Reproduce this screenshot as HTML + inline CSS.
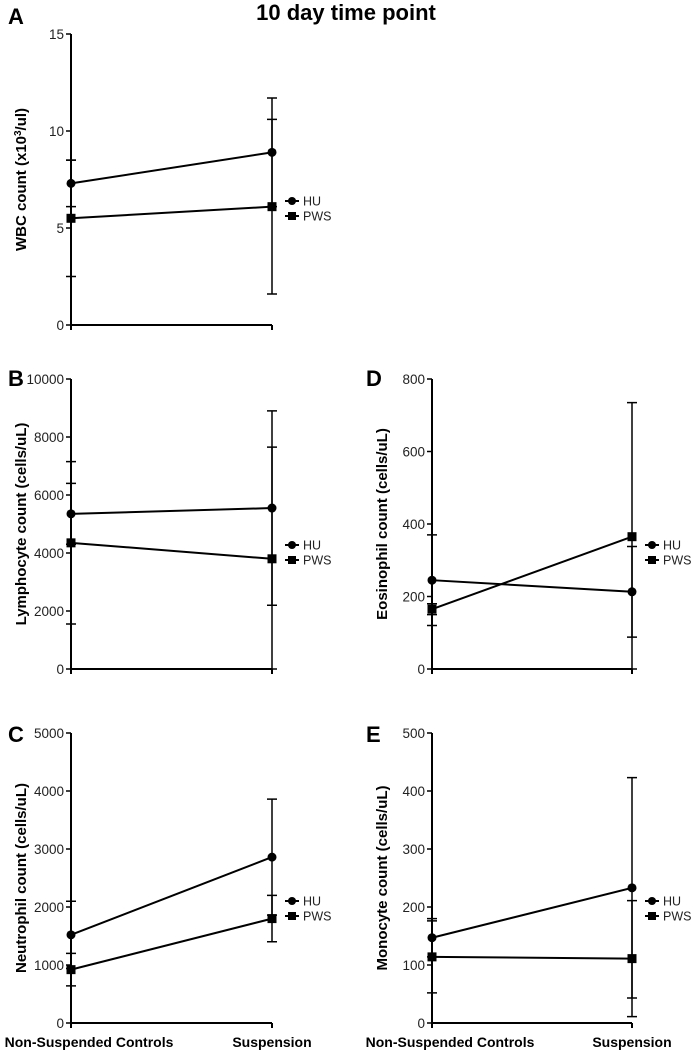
<!DOCTYPE html>
<html><head><meta charset="utf-8"><style>
body{margin:0;background:#fff;}
svg{display:block;font-family:"Liberation Sans",Arial,sans-serif;}
</style></head><body>
<svg id="fig" width="693" height="1050" viewBox="0 0 693 1050">
<text x="346" y="20" text-anchor="middle" font-size="22" font-weight="bold">10 day time point</text>
</svg>
<script>
const categories = ["Non-Suspended Controls", "Suspension"];
const seriesNames = ["HU", "PWS"];
// panel A
const aHU = [7.3, 8.9], aHUerr = [1.2, 2.8], aPWS = [5.5, 6.1], aPWSerr = [3.0, 4.5];
const aTicks = [0, 5, 10, 15];
// panel B
const bHU = [5350, 5550], bHUerr = [1050, 3350], bPWS = [4350, 3800], bPWSerr = [2800, 3850];
const bTicks = [0, 2000, 4000, 6000, 8000, 10000];
// panel C
const cHU = [1520, 2860], cHUerr = [580, 1000], cPWS = [920, 1800], cPWSerr = [280, 400];
const cTicks = [0, 1000, 2000, 3000, 4000, 5000];
// panel D
const dHU = [245, 213], dHUerr = [125, 125], dPWS = [165, 365], dPWSerr = [15, 370];
const dTicks = [0, 200, 400, 600, 800];
// panel E
const eHU = [147, 233], eHUerr = [33, 190], ePWS = [114, 111], ePWSerr = [62, 100];
const eTicks = [0, 100, 200, 300, 400, 500];

const NS = "http://www.w3.org/2000/svg";
const svg = document.getElementById("fig");
function mk(tag, attrs, parent) {
  const e = document.createElementNS(NS, tag);
  for (const k in attrs) e.setAttribute(k, attrs[k]);
  (parent || svg).appendChild(e);
  return e;
}
function panel(o) {
  const g = mk("g", {});
  
  
  const max = o.ticks[o.ticks.length - 1];
  const ys = v => o.y0 - (v / max) * (o.y0 - o.y1);
  const xs = i => i === 0 ? o.x0 : o.x1;
  const lt = mk("text", {x: o.lx, y: o.ly, "font-size": 22, "font-weight": "bold"}, g);
  lt.textContent = o.letter;
  
  
  const ya = mk("line", {x1: o.x0, y1: o.y1, x2: o.x0, y2: o.y0 + 5, stroke: "#000", "stroke-width": 2}, g);
  
  
  const xa = mk("line", {x1: o.x0 - 1, y1: o.y0, x2: o.x1, y2: o.y0, stroke: "#000", "stroke-width": 2}, g);
  
  
  mk("line", {x1: o.x1, y1: o.y0, x2: o.x1, y2: o.y0 + 5, stroke: "#000", "stroke-width": 2}, g);
  o.ticks.forEach(t => {
    mk("line", {x1: o.x0 - 5, y1: ys(t), x2: o.x0, y2: ys(t), stroke: "#000", "stroke-width": 1.5}, g);
    const tt = mk("text", {x: o.x0 - 7, y: ys(t) + 5, "text-anchor": "end", "font-size": 13.5, fill: "#222"}, g);
    tt.textContent = t;
    
    
  });
  const yt = mk("text", {transform: `translate(${o.x0 - 45},${(o.y0 + o.y1) / 2}) rotate(-90)`, "text-anchor": "middle", "font-size": 15, "font-weight": "bold"}, g);
  yt.innerHTML = o.ytitle;
  
  
  if (o.xlabels) {
    categories.forEach((c, i) => {
      const xt = mk("text", {x: i === 0 ? xs(i) + 18 : xs(i), y: 1047, "text-anchor": "middle", "font-size": 14, "font-weight": "bold"}, g);
      xt.textContent = c;
      
      
    });
  }
  const series = [[o.hu, o.huErr, "circle"], [o.pws, o.pwsErr, "square"]];
  series.forEach(([vals, errs, shape], si) => {
    vals.forEach((v, i) => {
      const x = xs(i), hi = ys(v + errs[i]), lo = ys(Math.max(0, v - errs[i]));
      const eb = mk("path", {d: `M${x},${hi}V${lo}M${x-5},${hi}H${x+5}M${x-5},${lo}H${x+5}`, stroke: "#000", "stroke-width": 1.5, fill: "none"}, g);
      
      
    });
    const ln = mk("line", {x1: xs(0), y1: ys(vals[0]), x2: xs(1), y2: ys(vals[1]), stroke: "#000", "stroke-width": 2}, g);
    
    
    vals.forEach((v, i) => {
      let m;
      if (shape === "circle") m = mk("circle", {cx: xs(i), cy: ys(v), r: 4.5, fill: "#000"}, g);
      else m = mk("rect", {x: xs(i) - 4.5, y: ys(v) - 4.5, width: 9, height: 9, fill: "#000"}, g);
      
      
    });
    const ly = o.legY + si * 15, lx = o.x1 + 13;
    mk("line", {x1: lx, y1: ly, x2: lx + 14, y2: ly, stroke: "#000", "stroke-width": 2}, g);
    let lm;
    if (shape === "circle") lm = mk("circle", {cx: lx + 7, cy: ly, r: 4, fill: "#000"}, g);
    else lm = mk("rect", {x: lx + 3, y: ly - 4, width: 8, height: 8, fill: "#000"}, g);
    
    
    const lt2 = mk("text", {x: lx + 18, y: ly + 4.5, "font-size": 12.5, fill: "#222"}, g);
    lt2.textContent = seriesNames[si];
    
    
  });
}
panel({letter: "A", lx: 8, ly: 24, x0: 71, x1: 272, y0: 325, y1: 34, ticks: aTicks, hu: aHU, huErr: aHUerr, pws: aPWS, pwsErr: aPWSerr, legY: 201, ytitle: 'WBC count (x10<tspan font-size="10" dy="-5">3</tspan><tspan dy="5">/ul)</tspan>'});
panel({letter: "B", lx: 8, ly: 386, x0: 71, x1: 272, y0: 669, y1: 379, ticks: bTicks, hu: bHU, huErr: bHUerr, pws: bPWS, pwsErr: bPWSerr, legY: 545, ytitle: "Lymphocyte count (cells/uL)"});
panel({letter: "C", lx: 8, ly: 742, x0: 71, x1: 272, y0: 1023, y1: 733, ticks: cTicks, hu: cHU, huErr: cHUerr, pws: cPWS, pwsErr: cPWSerr, legY: 901, xlabels: true, ytitle: "Neutrophil count (cells/uL)"});
panel({letter: "D", lx: 366, ly: 386, x0: 432, x1: 632, y0: 669, y1: 379, ticks: dTicks, hu: dHU, huErr: dHUerr, pws: dPWS, pwsErr: dPWSerr, legY: 545, ytitle: "Eosinophil count (cells/uL)"});
panel({letter: "E", lx: 366, ly: 742, x0: 432, x1: 632, y0: 1023, y1: 733, ticks: eTicks, hu: eHU, huErr: eHUerr, pws: ePWS, pwsErr: ePWSerr, legY: 901, xlabels: true, ytitle: "Monocyte count (cells/uL)"});
</script>
</body></html>
